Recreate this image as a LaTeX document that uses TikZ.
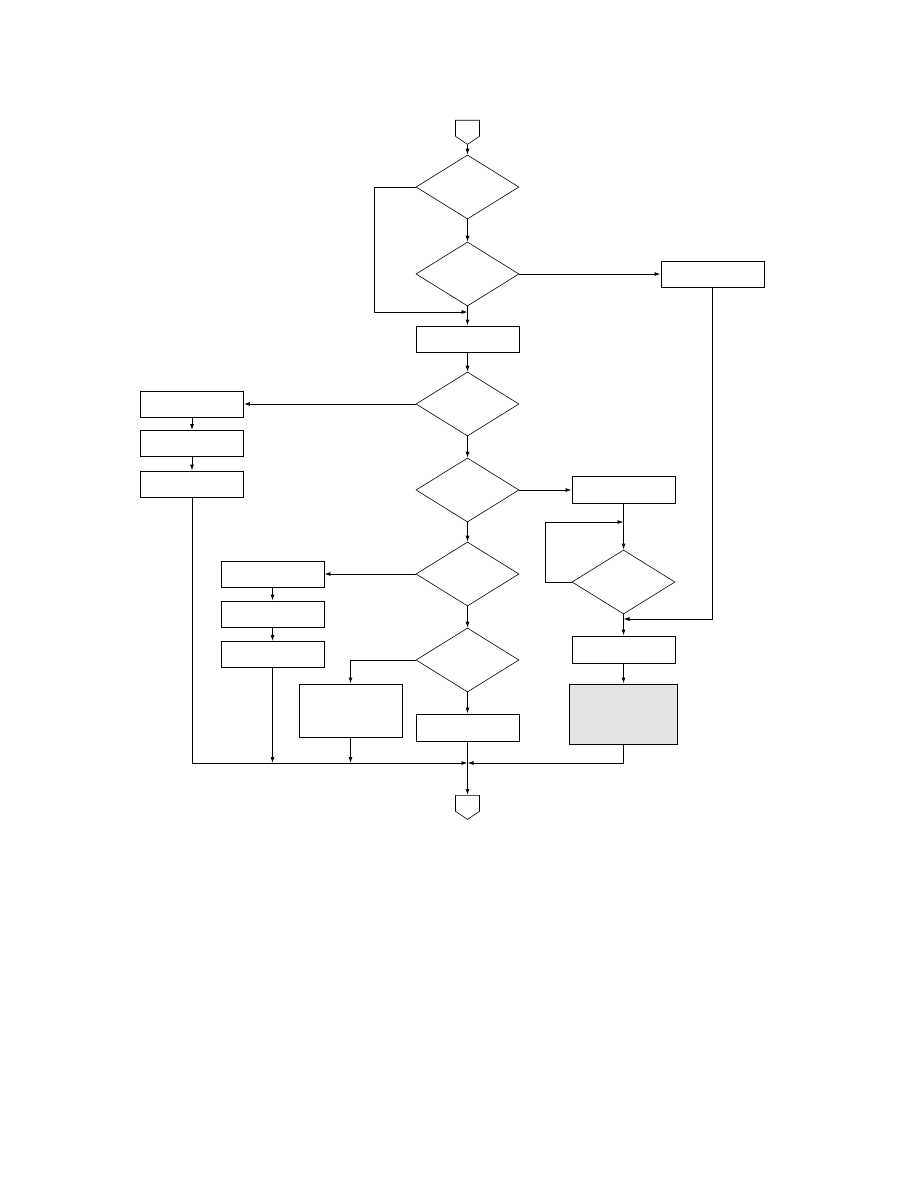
\documentclass[tikz,border=0pt]{standalone}
\usepackage{tikz}
\usetikzlibrary{arrows.meta,positioning,shapes.geometric,shapes.symbols}
\tikzset{
  box/.style={draw, line width=0.9pt, minimum width=103pt, minimum height=26pt, inner sep=0pt, fill=white},
  shaded/.style={box, fill=gray!22},
  test/.style={draw, diamond, line width=0.6pt, aspect=1.6, minimum width=103pt, minimum height=64pt, inner sep=0pt},
  conn/.style={draw, signal, signal to=south, signal pointer angle=112, line width=0.6pt, minimum width=24pt, minimum height=16pt, inner sep=0pt},
  arr/.style={-{Latex[length=6pt,width=4pt]}, line width=0.9pt},
  line/.style={line width=0.9pt}}

\begin{document}
\begin{tikzpicture}[x=1pt, y=-1pt]
  \useasboundingbox (0,0) rectangle (918,1188);
  % main column
  \node[conn, anchor=north] (start) at (467.5,120) {};
  \node[test] (dA) at (467.5,187) {};
  \node[test] (dB) at (467.5,274) {};
  \node[box] (bC) at (467.5,339) {};
  \node[test] (dD) at (467.5,404) {};
  \node[test] (dE) at (467.5,490) {};
  \node[test] (dF) at (467.5,574) {};
  \node[test] (dG) at (467.5,660) {};
  \node[box, minimum height=27pt] (bH) at (467.5,727.5) {};
  \node[conn, anchor=north] (stop) at (467.5,795) {};
  % left columns
  \node[box] (L1) at (192,404) {};
  \node[box] (L2) at (192,443.5) {};
  \node[box] (L3) at (192,484) {};
  \node[box] (M1) at (272.5,574) {};
  \node[box] (M2) at (272.5,614) {};
  \node[box] (M3) at (272.5,654.5) {};
  \node[box, minimum height=53pt] (M4) at (350.5,710.5) {};
  % right columns
  \node[box] (R0) at (712.5,274) {};
  \node[box, minimum height=27pt] (R1) at (623.5,490) {};
  \node[test] (dR) at (623.5,582) {};
  \node[box, minimum height=27pt] (R2) at (623.5,649.5) {};
  \node[shaded, minimum width=108pt, minimum height=60pt] (R3) at (623.5,714) {};
  % joins
  \coordinate (jA) at (467.5,312);
  \coordinate (jR) at (623.5,522);
  \coordinate (jB) at (623.5,619);
  \coordinate (j) at (467.5,763);

  \draw[arr] (start) -- (dA);
  \draw[arr] (dA) -- (dB);
  \draw[arr] (dA.west) -- ++(-41,0) |- (jA);
  \draw[arr] (dB) -- (bC);
  \draw[arr] (dB.east) -- (R0.west);
  \draw[arr] (bC) -- (dD);
  \draw[arr] (dD.west) -- (L1.east);
  \draw[arr] (L1) -- (L2);
  \draw[arr] (L2) -- (L3);
  \draw[arr] (dD) -- (dE);
  \draw[arr] (dE.east) -- (R1.west);
  \draw[arr] (dE) -- (dF);
  \draw[arr] (dF.west) -- (M1.east);
  \draw[arr] (M1) -- (M2);
  \draw[arr] (M2) -- (M3);
  \draw[arr] (dF) -- (dG);
  \draw[arr] (dG.west) -| (M4.north);
  \draw[arr] (dG) -- (bH);
  \draw[arr] (R1) -- (dR);
  \draw[arr] (dR.west) -- ++(-26,0) |- (jR);
  \draw[arr] (R0.south) |- (jB);
  \draw[arr] (dR) -- (R2);
  \draw[arr] (R2) -- (R3);
  \draw[arr] (L3.south) |- (j);
  \draw[arr] (M3.south) -- (M3.south |- j);
  \draw[arr] (M4.south) -- (M4.south |- j);
  \draw[arr] (R3.south) |- (j);
  \draw[arr] (bH) -- (stop);
\end{tikzpicture}
\end{document}
